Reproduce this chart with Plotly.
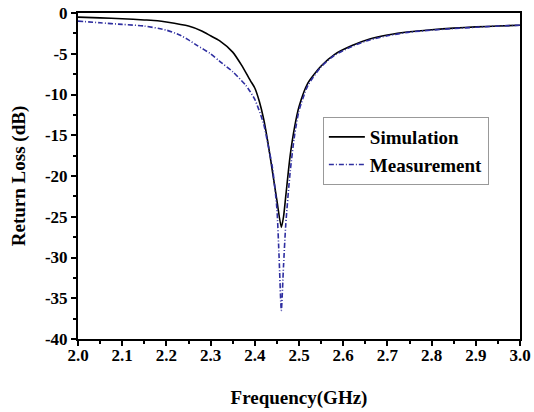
import plotly.graph_objects as go

freq_sim = [2.00, 2.05, 2.10, 2.15, 2.18, 2.20, 2.25, 2.28, 2.30, 2.32, 2.35, 2.37, 2.39, 2.40,
            2.41, 2.42, 2.43, 2.44, 2.45, 2.46, 2.465, 2.47, 2.48, 2.49, 2.50, 2.52, 2.55,
            2.58, 2.62, 2.66, 2.70, 2.75, 2.80, 2.85, 2.90, 2.95, 3.00]
rl_sim = [-0.5, -0.6, -0.7, -0.85, -0.95, -1.1, -1.6, -2.2, -2.8, -3.4, -4.8, -6.4, -8.3, -9.2,
          -10.8, -13.0, -16.0, -19.5, -23.0, -26.3, -25.0, -22.5, -17.5, -14.0, -11.5, -8.6, -6.5,
          -5.1, -4.0, -3.2, -2.7, -2.3, -2.05, -1.85, -1.7, -1.6, -1.5]

freq_meas = [2.00, 2.05, 2.10, 2.15, 2.20, 2.23, 2.25, 2.27, 2.30, 2.32, 2.35, 2.38, 2.40,
             2.42, 2.43, 2.44, 2.45, 2.455, 2.46, 2.465, 2.47, 2.48, 2.49, 2.50, 2.52, 2.55,
             2.58, 2.62, 2.66, 2.70, 2.75, 2.80, 2.85, 2.90, 2.95, 3.00]
rl_meas = [-1.0, -1.2, -1.4, -1.6, -2.1, -2.7, -3.3, -4.0, -5.0, -5.9, -7.2, -8.9, -10.6,
           -13.6, -16.2, -19.0, -24.0, -30.0, -36.5, -31.0, -26.0, -19.5, -15.0, -12.0, -8.9, -6.6,
           -5.2, -4.1, -3.3, -2.8, -2.35, -2.1, -1.9, -1.75, -1.6, -1.5]

x_ticks = [2.0, 2.1, 2.2, 2.3, 2.4, 2.5, 2.6, 2.7, 2.8, 2.9, 3.0]
y_ticks = [0, -5, -10, -15, -20, -25, -30, -35, -40]

font_fam = "Liberation Serif"

fig = go.Figure()
fig.add_trace(go.Scatter(x=freq_sim, y=rl_sim, mode="lines", name="Simulation",
                         line=dict(color="black", width=1.6, shape="spline", smoothing=0.6)))
fig.add_trace(go.Scatter(x=freq_meas, y=rl_meas, mode="lines", name="Measurement",
                         line=dict(color="#2e2ea0", width=1.6, dash="5px,2px,1px,2px",
                                   shape="spline", smoothing=0.6)))

axis_common = dict(showgrid=False, zeroline=False, showline=True, linecolor="black", linewidth=2,
                   mirror=True, ticks="outside", ticklen=5, tickwidth=2, tickcolor="black",
                   automargin=False,
                   tickfont=dict(family=font_fam, size=17, color="black", weight="bold"))

fig.update_xaxes(range=[2.0, 3.0], tickvals=x_ticks, ticktext=[f"{v:.1f}" for v in x_ticks],
                 ticklabelstandoff=-5,
                 minor=dict(ticks="outside", ticklen=3, tickwidth=1.5, tickcolor="black", dtick=0.05),
                 title=dict(text="Frequency(GHz)", standoff=26,
                            font=dict(family=font_fam, size=19, color="black", weight="bold")),
                 **axis_common)
fig.update_yaxes(range=[-40, 0], tickvals=y_ticks, ticktext=[str(v) for v in y_ticks],
                 minor=dict(ticks="outside", ticklen=3, tickwidth=1.5, tickcolor="black", dtick=2.5),
                 title=dict(text="Return Loss (dB)", standoff=14,
                            font=dict(family=font_fam, size=19, color="black", weight="bold")),
                 **axis_common)

fig.update_layout(
    width=534, height=412,
    margin=dict(l=78, r=14, t=13, b=73),
    paper_bgcolor="white", plot_bgcolor="white",
    showlegend=True,
    legend=dict(x=0.554, y=0.681, xanchor="left", yanchor="top",
                bordercolor="#999999", borderwidth=1, bgcolor="white",
                font=dict(family=font_fam, size=19, color="black", weight="bold"),
                itemwidth=36, tracegroupgap=0),
)

fig.write_html("out.html",
               config={"displayModeBar": False},
               post_script="document.body.style.margin='0';document.body.style.overflow='hidden';")
